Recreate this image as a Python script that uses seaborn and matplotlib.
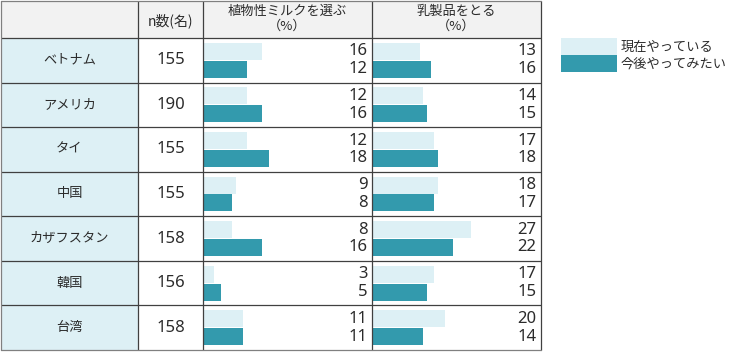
import matplotlib
matplotlib.use('Agg')
import matplotlib.pyplot as plt
import matplotlib.transforms as mtransforms
from matplotlib.patches import Rectangle
import seaborn as sns
import pandas as pd

# ---- data ----
countries = ['ベトナム', 'アメリカ', 'タイ', '中国', 'カザフスタン', '韓国', '台湾']
n_values = [155, 190, 155, 155, 158, 156, 158]
series = ['現在やっている', '今後やってみたい']
plant_now = [16, 12, 12, 9, 8, 3, 11]
plant_future = [12, 16, 18, 8, 16, 5, 11]
dairy_now = [13, 14, 17, 18, 27, 17, 20]
dairy_future = [16, 15, 18, 17, 22, 15, 14]
col_headers = [('植物性ミルクを選ぶ', '（%）'), ('乳製品をとる', '（%）')]
n_header = 'n数(名)'

LIGHT = '#DDF0F5'
DARK = '#339AAD'
HEADER_BG = '#F2F2F2'
TXT = '#2b2b2b'
NUM_FONT = ['Noto Sans', 'Noto Sans CJK JP', 'DejaVu Sans']

sns.set_theme(style='white')
plt.rcParams['font.family'] = ['Noto Sans CJK JP', 'DejaVu Sans']

W, H = 750, 352
fig = plt.figure(figsize=(7.5, 3.52), dpi=100)

# background / table axes in pixel coordinates
bg = fig.add_axes([0, 0, 1, 1], zorder=0)
bg.set_xlim(0, W)
bg.set_ylim(H, 0)
bg.axis('off')

col_x = [1, 138, 203, 372, 541]
top, head_bot, bottom = 1, 38, 350
nrows = len(countries)
row_h = (bottom - head_bot) / nrows
row_y = [head_bot + i * row_h for i in range(nrows + 1)]

bg.add_patch(Rectangle((col_x[0], top), col_x[-1] - col_x[0], head_bot - top,
                       fc=HEADER_BG, ec='none'))
bg.add_patch(Rectangle((col_x[0], head_bot), col_x[1] - col_x[0], bottom - head_bot,
                       fc=LIGHT, ec='none'))

# header texts
bg.text((col_x[1] + col_x[2]) / 2, 21, n_header, ha='center', va='center',
        fontsize=10, color=TXT)
for k, (l1, l2) in enumerate(col_headers):
    cx = (col_x[2 + k] + col_x[3 + k]) / 2
    bg.text(cx, 11.5, l1, ha='center', va='center', fontsize=9.5, color=TXT)
    bg.text(cx, 26, l2, ha='center', va='center', fontsize=9.5, color=TXT)

for i, (c, n) in enumerate(zip(countries, n_values)):
    cy = (row_y[i] + row_y[i + 1]) / 2
    bg.text((col_x[0] + col_x[1]) / 2, cy, c, ha='center', va='center',
            fontsize=9.5, color=TXT)
    bg.text((col_x[1] + col_x[2]) / 2, cy, str(n), ha='center', va='center',
            fontsize=12, color=TXT, family=NUM_FONT)

# bar axes
datasets = [(plant_now, plant_future), (dairy_now, dairy_future)]
for k, (now, fut) in enumerate(datasets):
    x0, x1 = col_x[2 + k], col_x[3 + k]
    ax = fig.add_axes([x0 / W, 1 - bottom / H, (x1 - x0) / W, (bottom - head_bot) / H],
                      zorder=2)
    df = pd.DataFrame({
        'country': countries * 2,
        'series': [series[0]] * nrows + [series[1]] * nrows,
        'value': now + fut,
    })
    sns.barplot(data=df, x='value', y='country', hue='series', hue_order=series,
                order=countries, palette=[LIGHT, DARK], saturation=1, orient='h',
                width=0.8, gap=0.05, linewidth=0, errorbar=None, ax=ax,
                legend=(k == 0))
    ax.set_xlim(0, 46)
    ax.set_ylim(nrows - 0.5, -0.5)
    ax.axis('off')
    ax.patch.set_alpha(0)
    trans = mtransforms.blended_transform_factory(ax.transAxes, ax.transData)
    xr = 1 - 4.5 / (x1 - x0)
    for j, (cont, vals) in enumerate(zip(ax.containers, (now, fut))):
        for bar, v in zip(cont, vals):
            yc = bar.get_y() + bar.get_height() / 2
            ax.text(xr, yc, str(v), transform=trans, ha='right', va='center',
                    fontsize=12, color=TXT, family=NUM_FONT)
    if k == 0:
        fs = 9.5
        fs_px = fs * 100 / 72
        sns.move_legend(ax, 'upper left', bbox_to_anchor=(561 / W, 1 - 38 / H),
                        bbox_transform=fig.transFigure, frameon=False, title=None,
                        fontsize=fs, handlelength=56 / fs_px, handleheight=21 / fs_px,
                        labelspacing=0, borderpad=0, borderaxespad=0,
                        handletextpad=4 / fs_px, labelcolor=TXT)

# table lines on top
ov = fig.add_axes([0, 0, 1, 1], zorder=5)
ov.set_xlim(0, W)
ov.set_ylim(H, 0)
ov.axis('off')
ov.patch.set_alpha(0)
inner = '#404040'
outer = '#808080'
for x in col_x[1:-1]:
    ov.plot([x, x], [top, bottom], color=inner, lw=0.9, solid_capstyle='butt')
for y in row_y[:-1]:
    ov.plot([col_x[0], col_x[-1]], [y, y], color=inner, lw=0.9, solid_capstyle='butt')
ov.plot([col_x[-1], col_x[-1]], [top, bottom], color=inner, lw=0.9)
ov.plot([col_x[0], col_x[0]], [top, bottom], color=outer, lw=0.9)
ov.plot([col_x[0], col_x[-1]], [top, top], color=outer, lw=0.9)
ov.plot([col_x[0], col_x[-1]], [bottom, bottom], color=outer, lw=0.9)

fig.savefig('out.png', dpi=100)
